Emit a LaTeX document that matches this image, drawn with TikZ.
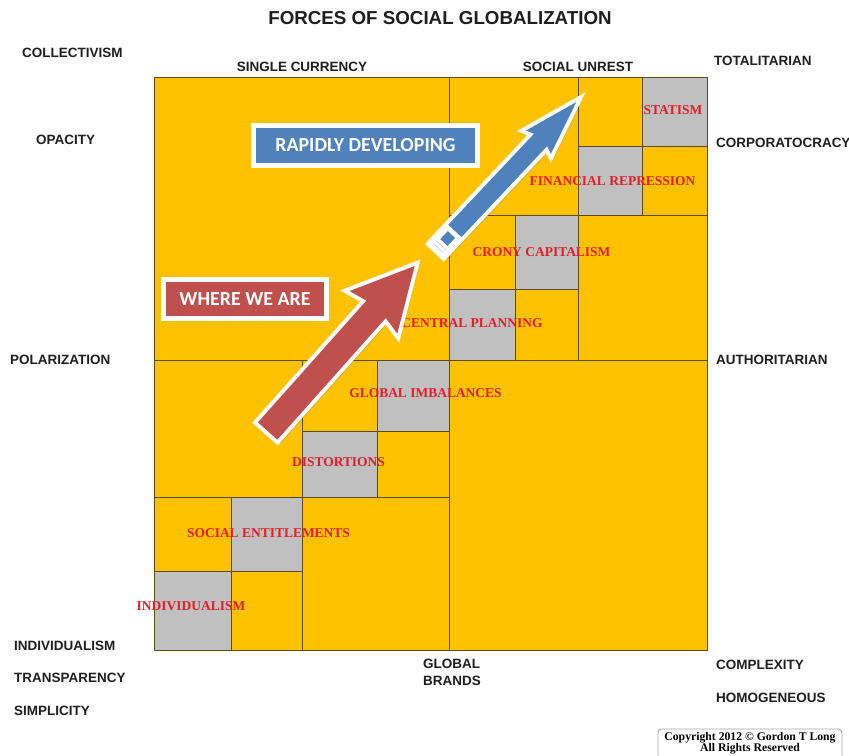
\documentclass[tikz,border=0pt]{standalone}
\usepackage{fontspec}
\setmainfont{Liberation Sans}
\newfontfamily\stagefont{Liberation Serif}
\newfontfamily\bannerfont{Carlito}
\usetikzlibrary{shadows}

\definecolor{gridgold}{RGB}{255,194,0}
\definecolor{cellgray}{RGB}{192,192,192}
\definecolor{gridline}{RGB}{95,75,25}
\definecolor{stagered}{RGB}{230,28,40}
\definecolor{bannerblue}{RGB}{79,129,189}
\definecolor{bannerred}{RGB}{192,80,77}
\definecolor{inkgray}{RGB}{30,30,30}

\tikzset{
  axislabel/.style={font=\fontsize{11.5}{14.5}\selectfont\bfseries, text=inkgray, inner sep=0pt},
  stagelabel/.style={font=\stagefont\fontsize{11.5}{13}\selectfont\bfseries, text=stagered, inner sep=0pt},
  banner/.style={draw=white, line width=0.15cm, text=white,
    font=\bannerfont\fontsize{17}{19}\selectfont\bfseries,
    drop shadow={opacity=0.3, shadow xshift=2pt, shadow yshift=-2pt}},
  gridrule/.style={draw=gridline, line width=0.6pt},
  arrowrim/.style={draw=white, fill=white, line width=0.24cm, line join=miter,
    drop shadow={opacity=0.3, shadow xshift=3pt, shadow yshift=-3pt}}
}

\begin{document}
\begin{tikzpicture}[x=0.03cm, y=-0.03cm]

\useasboundingbox (0,0) rectangle (849,755);
\fill[white] (0,0) rectangle (849,755);

\node[font=\fontsize{16}{18}\selectfont\bfseries, text=inkgray, inner sep=0pt] (title) at (440,18) {FORCES OF SOCIAL GLOBALIZATION};

% the square and its cells
\fill[gridgold] (154,77) rectangle (707,650);
\foreach \xa/\ya/\xb/\yb in {154/571/231/650, 231/497/302/571, 302/431/377/497, 377/360/449/431,
                             449/289/515/360, 515/215/578/289, 578/146/642/215, 642/77/707/146}
  \fill[cellgray] (\xa,\ya) rectangle (\xb,\yb);
\draw[gridrule] (154,77) rectangle (707,650);
\foreach \xa/\ya/\xb/\yb in {449/77/449/650, 154/360/707/360,
                             302/360/302/650, 154/497/449/497, 231/497/231/650, 154/571/302/571,
                             377/360/377/497, 302/431/449/431,
                             578/77/578/360, 449/215/707/215, 515/215/515/360, 449/289/578/289,
                             642/77/642/215, 578/146/707/146}
  \draw[gridrule] (\xa,\ya) -- (\xb,\yb);

% labels round the square
\node[axislabel, anchor=west] (collectivism) at (22,53) {COLLECTIVISM};
\node[axislabel] (currency) at (302,67) {SINGLE CURRENCY};
\node[axislabel] (unrest) at (578,67) {SOCIAL UNREST};
\node[axislabel, anchor=west] (totalitarian) at (714,61) {TOTALITARIAN};
\node[axislabel, anchor=west] (opacity) at (36,140) {OPACITY};
\node[axislabel, anchor=west] (corporatocracy) at (716,143) {CORPORATOCRACY};
\node[axislabel, anchor=west] (polarization) at (10,360) {POLARIZATION};
\node[axislabel, anchor=west] (authoritarian) at (716,360) {AUTHORITARIAN};
\node[axislabel, anchor=west] (individualism) at (14,646) {INDIVIDUALISM};
\node[axislabel, anchor=west] (transparency) at (14,678) {TRANSPARENCY};
\node[axislabel, anchor=west] (simplicity) at (14,711) {SIMPLICITY};
\node[axislabel, anchor=west, align=left] (brands) at (423,672.5) {GLOBAL\\BRANDS};
\node[axislabel, anchor=west] (complexity) at (716,665) {COMPLEXITY};
\node[axislabel, anchor=west] (homogeneous) at (716,698) {HOMOGENEOUS};

% stages along the diagonal
\node[stagelabel] (individual) at (191,606) {INDIVIDUALISM};
\node[stagelabel] (entitlements) at (268.5,533) {SOCIAL ENTITLEMENTS};
\node[stagelabel] (distortions) at (338.5,462) {DISTORTIONS};
\node[stagelabel] (imbalances) at (425.5,393) {GLOBAL IMBALANCES};
\node[stagelabel] (planning) at (472,323) {CENTRAL PLANNING};
\node[stagelabel] (crony) at (541.5,252) {CRONY CAPITALISM};
\node[stagelabel] (repression) at (612.5,181) {FINANCIAL REPRESSION};
\node[stagelabel] (statism) at (673,110) {STATISM};

% arrows
\coordinate (redtail) at (265,434);
\coordinate (bluetail) at (435,252);
\begin{scope}[shift={(redtail)}, rotate=48.3]
  \path[arrowrim] (4,-13) -- (167,-13) -- (163,-32) -- (225,0) -- (163,32) -- (167,13) -- (4,13) -- cycle;
  \fill[bannerred] (4,-13) -- (167,-13) -- (163,-32) -- (225,0) -- (163,32) -- (167,13) -- (4,13) -- cycle;
\end{scope}
\begin{scope}[shift={(bluetail)}, rotate=46.7]
  \path[arrowrim] (3,-9) -- (154,-9) -- (151,-17) -- (206,0) -- (151,17) -- (154,9) -- (3,9) -- cycle;
  \fill[bannerblue] (29,-9) -- (154,-9) -- (151,-17) -- (206,0) -- (151,17) -- (154,9) -- (29,9) -- cycle;
  \fill[bannerblue] (13,-5) rectangle (24,5);
  \draw[bannerblue!35, line width=0.6pt] (5,-7) -- (5,7) (9,-7) -- (9,7);
\end{scope}

% banners
\node[banner, fill=bannerblue, minimum width=6.72cm, minimum height=1.2cm] (rapid) at (365.5,145.5) {RAPIDLY DEVELOPING};
\node[banner, fill=bannerred, minimum width=4.89cm, minimum height=1.17cm] (where) at (245,299) {WHERE WE ARE};

% copyright
\draw[draw=gray!70, line width=0.8pt, rounded corners=3pt] (658,729) rectangle (842,764);
\node[font=\stagefont\fontsize{10}{9.5}\selectfont\bfseries, align=center, inner sep=0pt] (copyright) at (750,743) {Copyright 2012 \textcopyright{} Gordon T Long\\All Rights Reserved};

\end{tikzpicture}
\end{document}
